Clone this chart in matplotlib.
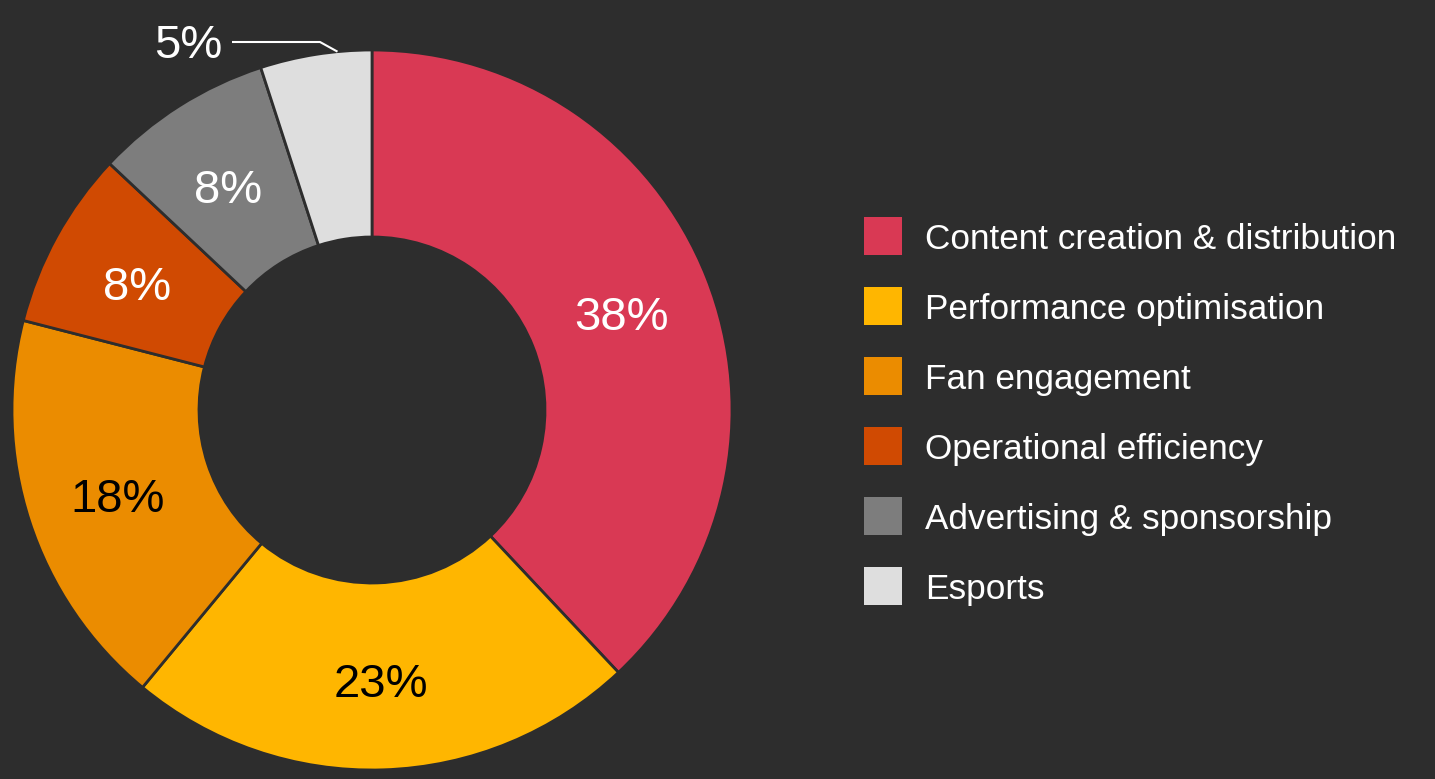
import numpy as np
import matplotlib.pyplot as plt
from matplotlib.patches import Rectangle

# Share of use cases
categories = ['Content creation & distribution', 'Performance optimisation',
              'Fan engagement', 'Operational efficiency',
              'Advertising & sponsorship', 'Esports']
shares = [38, 23, 18, 8, 8, 5]
colors = ['#D93954', '#FFB600', '#EB8C00', '#D04A02', '#7D7D7D', '#DEDEDE']
label_colors = ['white', 'black', 'black', 'white', 'white', 'white']

BG = '#2D2D2D'
W, H = 1435, 779

plt.rcParams['font.family'] = ['Liberation Sans', 'DejaVu Sans']

fig = plt.figure(figsize=(W / 100, H / 100), dpi=100, facecolor=BG)
ax = fig.add_axes([0, 0, 1, 1])
ax.set_facecolor(BG)

cx, cy = 372, H - 410
r_out, r_in = 360, 173

wedges, _ = ax.pie(shares, colors=colors, startangle=90, counterclock=False,
                   radius=r_out, center=(cx, cy),
                   wedgeprops=dict(width=r_out - r_in, edgecolor=BG, linewidth=2))

# percentage labels in the ring
for w, val, tc in zip(wedges, shares, label_colors):
    mid = np.deg2rad((w.theta1 + w.theta2) / 2)
    if val >= 8:
        r_lab = 268
        x = cx + r_lab * np.cos(mid)
        y = cy + r_lab * np.sin(mid) - 7
        ax.text(x, y, '{}%'.format(val), color=tc, fontsize=34,
                ha='center', va='center')
    else:
        # small slice: label outside with a leader line
        ang = np.deg2rad(95.5)
        px, py = cx + r_out * np.cos(ang), cy + r_out * np.sin(ang)
        ly = H - 42
        ax.plot([232, 320, px], [ly, ly, py], color='white', lw=1.5,
                solid_capstyle='butt')
        ax.text(222, ly - 4, '{}%'.format(val), color=tc, fontsize=34,
                ha='right', va='center')

# legend
for i, (name, c) in enumerate(zip(categories, colors)):
    yc = H - (236 + i * 70)
    ax.add_patch(Rectangle((864, yc - 19), 38, 38, facecolor=c, edgecolor='none'))
    ax.text(925, yc - 3, name, color='white', fontsize=25.3, ha='left', va='center')

ax.set_xlim(0, W)
ax.set_ylim(0, H)
ax.set_aspect('equal')
ax.axis('off')

fig.savefig('out.png', dpi=100, facecolor=BG)
